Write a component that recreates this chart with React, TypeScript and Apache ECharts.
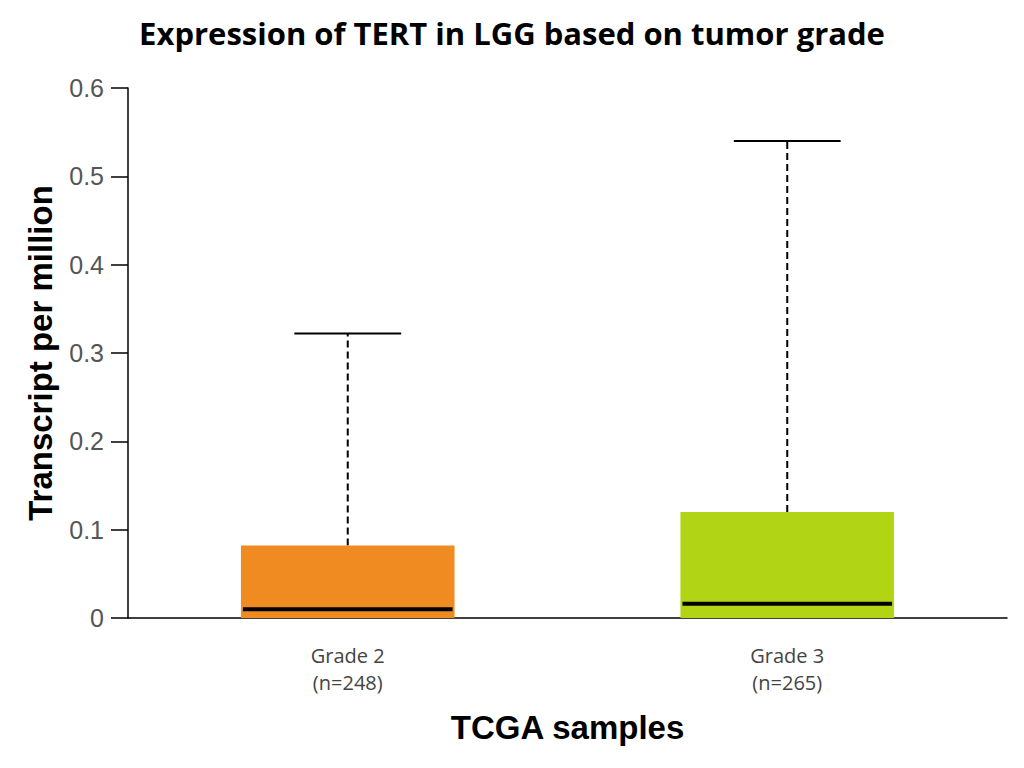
import React, { useEffect, useRef } from "react";
import * as echarts from "echarts";

// box summary per grade (TPM)
const categories = ["Grade 2\n(n=248)", "Grade 3\n(n=265)"];
const lowerQuartile = [0, 0];
const upperQuartile = [0.082, 0.12];
const medians = [0.01, 0.016];
const upperWhisker = [0.322, 0.54];
const boxColors = ["#EF8B21", "#B1D414"];

const yTicks = { min: 0, max: 0.6, interval: 0.1 };

const App = () => {
	const chartRef = useRef<HTMLDivElement>(null);

	useEffect(() => {
		if (!chartRef.current) return;
		document.body.style.margin = "0";
		const chart = echarts.init(chartRef.current, null, { renderer: "svg" });

		const data = categories.map((c, i) => [
			i,
			lowerQuartile[i],
			upperQuartile[i],
			medians[i],
			upperWhisker[i],
		]);

		const option = {
			animation: false,
			title: {
				text: "Expression of TERT in LGG based on tumor grade",
				left: "center",
				top: 12,
				textStyle: {
					fontFamily: "Open Sans",
					fontWeight: "bold",
					fontSize: 31,
					color: "#000",
				},
			},
			grid: { left: 128, right: 17, top: 88, bottom: 150 },
			xAxis: {
				type: "category",
				data: categories,
				axisLine: { lineStyle: { color: "#000", width: 1.5 } },
				axisTick: { show: false },
				axisLabel: {
					fontFamily: "Open Sans",
					fontSize: 20,
					lineHeight: 27,
					color: "#444",
					margin: 24,
				},
				name: "TCGA samples",
				nameLocation: "middle",
				nameGap: 93,
				nameTextStyle: {
					fontFamily: "Liberation Sans",
					fontWeight: "bold",
					fontSize: 33,
					color: "#000",
				},
			},
			yAxis: {
				type: "value",
				min: yTicks.min,
				max: yTicks.max,
				interval: yTicks.interval,
				splitLine: { show: false },
				axisLine: { show: true, lineStyle: { color: "#000", width: 1.5 } },
				axisTick: { show: true, length: 17, lineStyle: { color: "#000", width: 1.5 } },
				axisLabel: {
					fontFamily: "Liberation Sans",
					fontSize: 25,
					color: "#555",
					margin: 24,
				},
				name: "Transcript per million",
				nameLocation: "middle",
				nameGap: 71,
				nameTextStyle: {
					fontFamily: "Liberation Sans",
					fontWeight: "bold",
					fontSize: 33,
					color: "#000",
				},
			},
			series: [
				{
					type: "custom",
					data: data,
					encode: { x: 0, y: [1, 2, 3, 4] },
					renderItem: (params, api) => {
						const idx = api.value(0);
						const band = api.size([1, 0])[0];
						const boxW = band * 0.486;
						const capW = boxW * 0.5;
						const low = api.coord([idx, api.value(1)]);
						const high = api.coord([idx, api.value(2)]);
						const med = api.coord([idx, api.value(3)]);
						const top = api.coord([idx, api.value(4)]);
						const cx = low[0];
						return {
							type: "group",
							children: [
								{
									type: "line",
									shape: { x1: cx, y1: high[1], x2: cx, y2: top[1] },
									style: { stroke: "#000", lineWidth: 2, lineDash: [7, 4] },
								},
								{
									type: "line",
									shape: { x1: cx - capW / 2, y1: top[1], x2: cx + capW / 2, y2: top[1] },
									style: { stroke: "#000", lineWidth: 2 },
								},
								{
									type: "rect",
									shape: {
										x: cx - boxW / 2,
										y: high[1],
										width: boxW,
										height: low[1] - high[1],
									},
									style: { fill: boxColors[params.dataIndex] },
								},
								{
									type: "line",
									shape: { x1: cx - boxW / 2 + 2, y1: med[1], x2: cx + boxW / 2 - 2, y2: med[1] },
									style: { stroke: "#000", lineWidth: 4 },
								},
							],
						};
					},
				},
			],
		};

		chart.setOption(option);
		return () => {
			chart.dispose();
		};
	}, []);

	return <div ref={chartRef} style={{ width: 1024, height: 768 }} />;
};

export default App;
